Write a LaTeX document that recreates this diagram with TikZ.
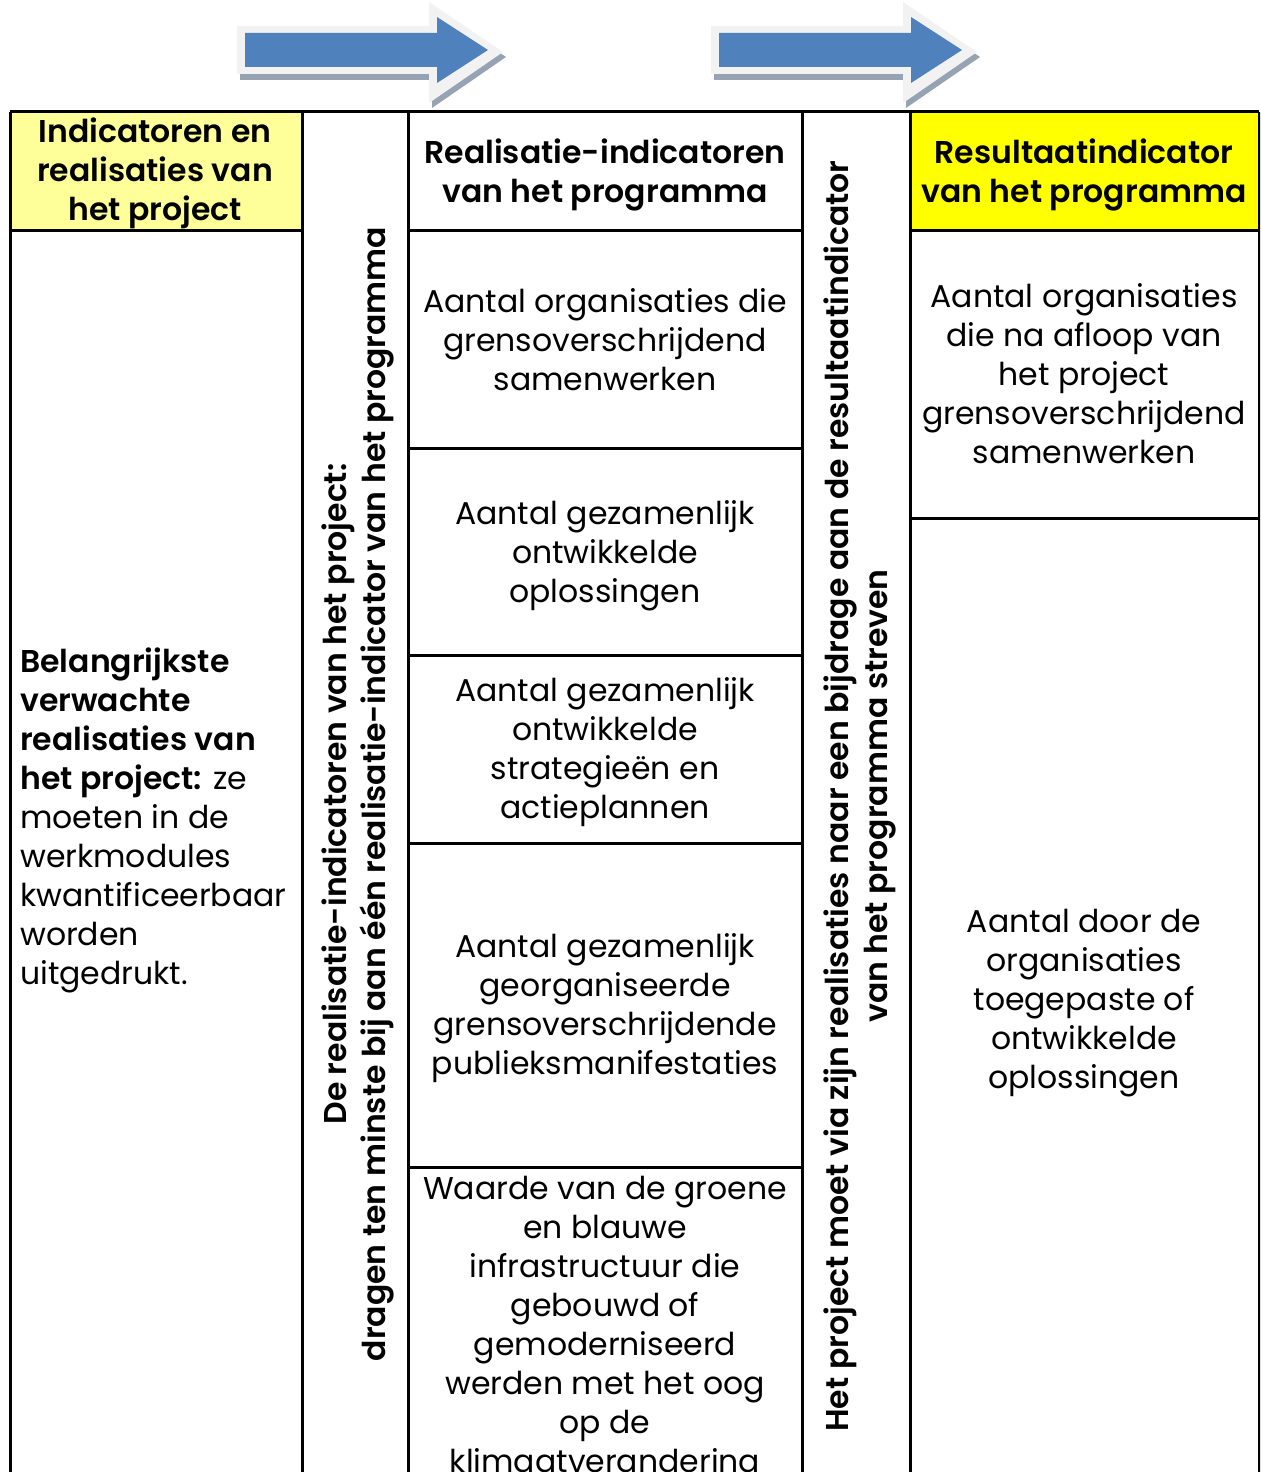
\documentclass[tikz,border=0pt]{standalone}
\usepackage{fontspec}
\setmainfont{Poppins}[BoldFont={Poppins SemiBold}]
\definecolor{lightyel}{HTML}{FFFF99}
\definecolor{brightyel}{HTML}{FFFF00}
\definecolor{arrowblue}{HTML}{4F81BD}
\definecolor{arrowrim}{HTML}{F2F2F2}
\definecolor{arrowshadow}{HTML}{95A3B3}
\begin{document}
\begin{tikzpicture}[x=1bp,y=-1bp,
  txt/.style={inner sep=0pt,align=center,font=\fontsize{31.5bp}{39bp}\selectfont},
  btxt/.style={txt,font=\fontsize{31.5bp}{39bp}\selectfont\bfseries},
  grid/.style={line width=3bp,black},
  rim/.style={fill=arrowrim},
  shade/.style={fill=arrowshadow},
  body/.style={fill=arrowblue}]
\useasboundingbox (0,0) rectangle (1260,1472);
\clip (0,0) rectangle (1260,1472);
% arrows
\foreach \dx in {0,474}{
  \begin{scope}[xshift=\dx bp]
  \fill[shade] (240,31)--(432,31)--(432,7)--(506,57)--(432,108)--(432,80)--(240,80)--cycle;
  \fill[rim] (237,26)--(429,26)--(429,2)--(503,52)--(429,103)--(429,74)--(237,74)--cycle;
  \fill[body] (245,33)--(437,33)--(437,17)--(488,50)--(437,83)--(437,67)--(245,67)--cycle;
  \end{scope}
}
% header fills
\fill[lightyel] (10,112) rectangle (302,230);
\fill[brightyel] (910,112) rectangle (1259,230);
% grid
\draw[grid] (10,112) -- (1259,112);
\foreach \x in {10,302,408,802,910,1259} \draw[grid] (\x,112) -- (\x,1480);
\draw[grid] (10,230) -- (302,230);
\foreach \y in {230,448,655,843,1167} \draw[grid] (408,\y) -- (802,\y);
\foreach \y in {230,518} \draw[grid] (910,\y) -- (1259,\y);
% headers
\node[btxt] (h1) at (155,173) {Indicatoren en\\realisaties van\\het project};
\node[btxt] (h2) at (605,174.5) {Realisatie-indicatoren\\van het programma};
\node[btxt] (h3) at (1084,174.5) {Resultaatindicator\\van het programma};
% left body
\node[txt,align=left,anchor=west] (lb) at (20,820.5) {\textbf{Belangrijkste}\\\textbf{verwachte}\\\textbf{realisaties van}\\\textbf{het project:} ze\\moeten in de\\werkmodules\\kwantificeerbaar\\worden\\uitgedrukt.};
% vertical texts
\node[btxt,rotate=90] (v1) at (358,794) {De realisatie-indicatoren van het project:\\dragen ten minste bij aan één realisatie-indicator van het programma};
\node[btxt,rotate=90] (v2) at (860,796) {Het project moet via zijn realisaties naar een bijdrage aan de resultaatindicator\\van het programma streven};
% middle cells
\node[txt] (m1) at (605,340) {Aantal organisaties die\\grensoverschrijdend\\samenwerken};
\node[txt] (m2) at (605,556) {Aantal gezamenlijk\\ontwikkelde\\oplossingen};
\node[txt] (m3) at (605,752.5) {Aantal gezamenlijk\\ontwikkelde\\strategieën en\\actieplannen};
\node[txt] (m4) at (605,1008.5) {Aantal gezamenlijk\\georganiseerde\\grensoverschrijdende\\publieksmanifestaties};
\node[txt] (m5) at (605,1328.5) {Waarde van de groene\\en blauwe\\infrastructuur die\\gebouwd of\\gemoderniseerd\\werden met het oog\\op de\\klimaatverandering};
% right cells
\node[txt] (r1) at (1084,374) {Aantal organisaties\\die na afloop van\\het project\\grensoverschrijdend\\samenwerken};
\node[txt] (r2) at (1084,1003) {Aantal door de\\organisaties\\toegepaste of\\ontwikkelde\\oplossingen};
\end{tikzpicture}
\end{document}
